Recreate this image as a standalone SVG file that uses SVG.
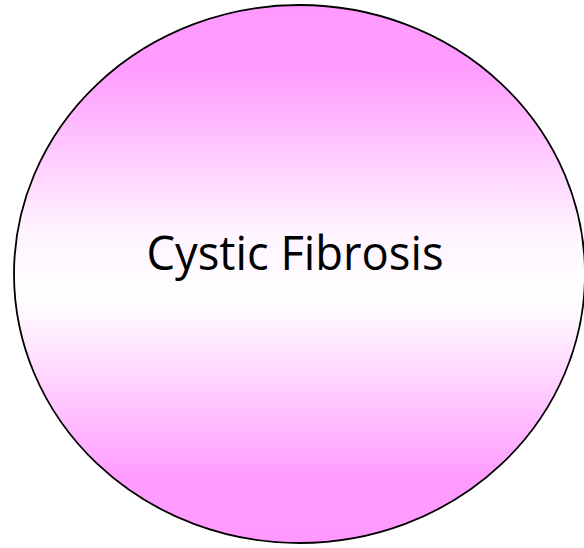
<svg xmlns="http://www.w3.org/2000/svg" width="584" height="548" viewBox="0 0 584 548">
<defs>
<linearGradient id="g" x1="0" y1="0" x2="0" y2="1">
<stop offset="0" stop-color="#ff99ff"/>
<stop offset="0.12" stop-color="#ff9cff"/>
<stop offset="0.42" stop-color="#fff4ff"/>
<stop offset="0.55" stop-color="#ffffff"/>
<stop offset="0.88" stop-color="#ff9cff"/>
<stop offset="1" stop-color="#ff99ff"/>
</linearGradient>
<style>
.lbl{font-family:"Open Sans","Noto Sans","Liberation Sans",sans-serif;font-size:48px;fill:#000}
</style>
</defs>
<rect width="584" height="548" fill="#ffffff"/>
<g id="cystic-fibrosis">
<ellipse cx="299.5" cy="274" rx="285.5" ry="269" fill="url(#g)" stroke="#000" stroke-width="1.8"/>
<text class="lbl" x="295" y="270" text-anchor="middle" textLength="297" lengthAdjust="spacingAndGlyphs">Cystic Fibrosis</text>
</g>
</svg>
